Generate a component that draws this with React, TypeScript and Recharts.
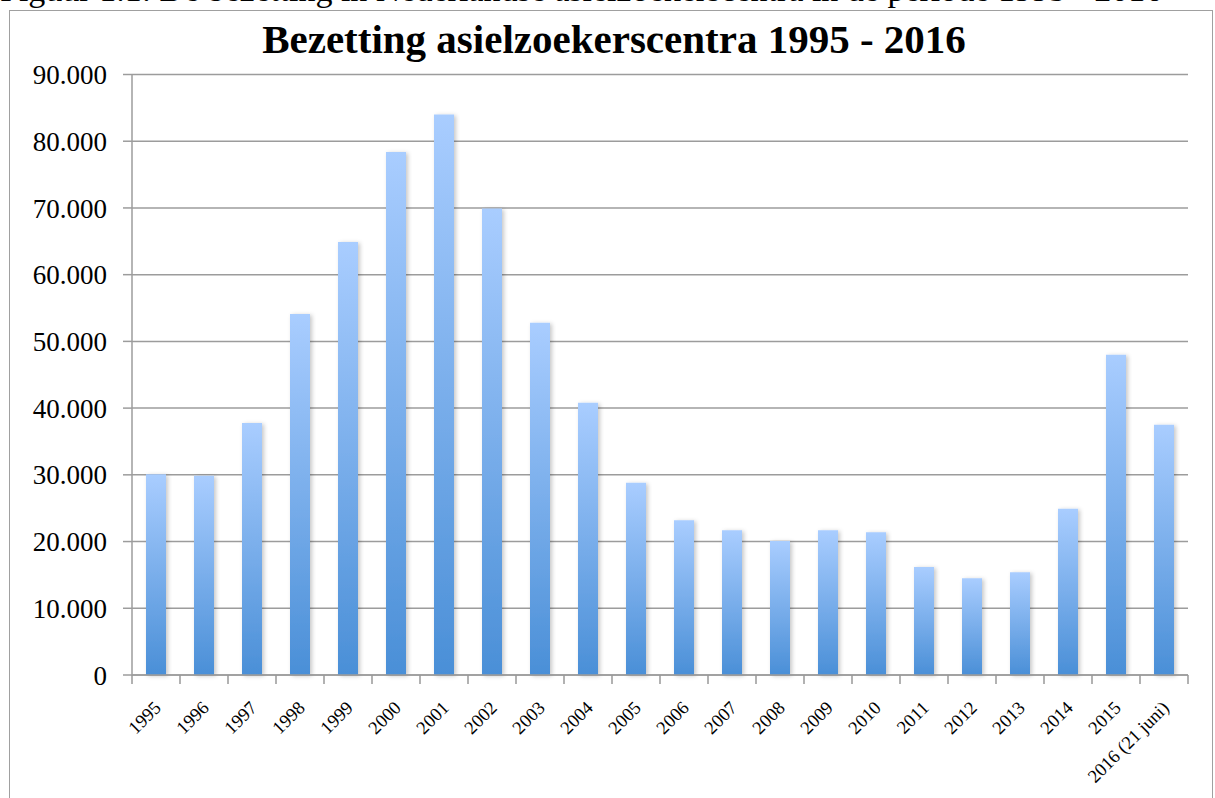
import { BarChart, Bar, XAxis, YAxis, CartesianGrid } from "recharts";

const years = [
  "1995", "1996", "1997", "1998", "1999", "2000", "2001", "2002",
  "2003", "2004", "2005", "2006", "2007", "2008", "2009", "2010",
  "2011", "2012", "2013", "2014", "2015", "2016 (21 juni)",
];

const bezetting = [
  30100, 29850, 37750, 54100, 64900, 78400, 84000, 69900,
  52800, 40800, 28800, 23200, 21700, 20100, 21700, 21400,
  16200, 14500, 15400, 24900, 48000, 37500,
];

const yTicks = [0, 10000, 20000, 30000, 40000, 50000, 60000, 70000, 80000, 90000];

const data = years.map((year, i) => ({ year, value: bezetting[i] }));

const SERIF = "'Liberation Serif', 'DejaVu Serif', serif";

const fmt = (v: number) =>
  String(v).replace(/\B(?=(\d{3})+(?!\d))/g, ".");

function YearTick(props: any) {
  const { x, y, payload, index } = props;
  const half = payload.offset || 0;
  const last = index === years.length - 1;
  const tx = x + 6;
  const ty = y + 26;
  return (
    <g>
      <line x1={x - half} y1={y - 8} x2={x - half} y2={y + 1} stroke="#999" strokeWidth={1.5} />
      {last && (
        <line x1={x + half} y1={y - 8} x2={x + half} y2={y + 1} stroke="#999" strokeWidth={1.5} />
      )}
      <text
        x={tx}
        y={ty}
        textAnchor="end"
        fontFamily={SERIF}
        fontSize={18.5}
        fill="#000"
        transform={`rotate(-45, ${tx}, ${ty})`}
      >
        {payload.value}
      </text>
    </g>
  );
}

export default function App() {
  return (
    <div style={{ position: "absolute", left: 0, top: 0, width: 1215, height: 798, overflow: "hidden", background: "#fff" }}>
      <div
        style={{
          position: "absolute",
          left: 0,
          top: -27.5,
          fontFamily: SERIF,
          fontSize: 34,
          lineHeight: "34px",
          whiteSpace: "nowrap",
          color: "#000",
        }}
      >
        Figuur 1.1: De bezetting in Nederlandse asielzoekerscentra in de periode 1995 - 2016
      </div>
      <div
        style={{
          position: "absolute",
          left: 9,
          top: 10,
          width: 1204,
          height: 830,
          border: "1.5px solid #a0a0a0",
          boxSizing: "border-box",
        }}
      />
      <div
        style={{
          position: "absolute",
          left: 9,
          top: 17,
          width: 1210,
          textAlign: "center",
          fontFamily: SERIF,
          fontWeight: "bold",
          fontSize: 41,
          lineHeight: "44px",
          color: "#000",
        }}
      >
        Bezetting asielzoekerscentra 1995 - 2016
      </div>
      <div style={{ position: "absolute", left: 0, top: 0 }}>
        <BarChart
          width={1215}
          height={798}
          data={data}
          margin={{ top: 74.5, right: 27, bottom: 3, left: 8 }}
        >
          <defs>
            <linearGradient id="barFill" x1="0" y1="0" x2="0" y2="1">
              <stop offset="0%" stopColor="#a9cdff" />
              <stop offset="100%" stopColor="#4a8fd7" />
            </linearGradient>
            <filter id="barShadow" x="-30%" y="-10%" width="160%" height="120%">
              <feDropShadow dx="2" dy="1" stdDeviation="2" floodColor="#000" floodOpacity="0.22" />
            </filter>
          </defs>
          <CartesianGrid vertical={false} stroke="#9c9c9c" strokeWidth={1.5} />
          <XAxis
            dataKey="year"
            interval={0}
            height={120}
            tickLine={false}
            axisLine={{ stroke: "#9c9c9c", strokeWidth: 1.5 }}
            tick={<YearTick />}
          />
          <YAxis
            width={124}
            domain={[0, 90000]}
            ticks={yTicks}
            tickFormatter={fmt}
            tickSize={9}
            tickMargin={16}
            tickLine={{ stroke: "#9c9c9c", strokeWidth: 1.5 }}
            axisLine={{ stroke: "#9c9c9c", strokeWidth: 1.5 }}
            tick={{ fontFamily: SERIF, fontSize: 27, fill: "#000" }}
          />
          <Bar
            dataKey="value"
            barSize={20}
            fill="url(#barFill)"
            filter="url(#barShadow)"
            isAnimationActive={false}
          />
        </BarChart>
      </div>
    </div>
  );
}
